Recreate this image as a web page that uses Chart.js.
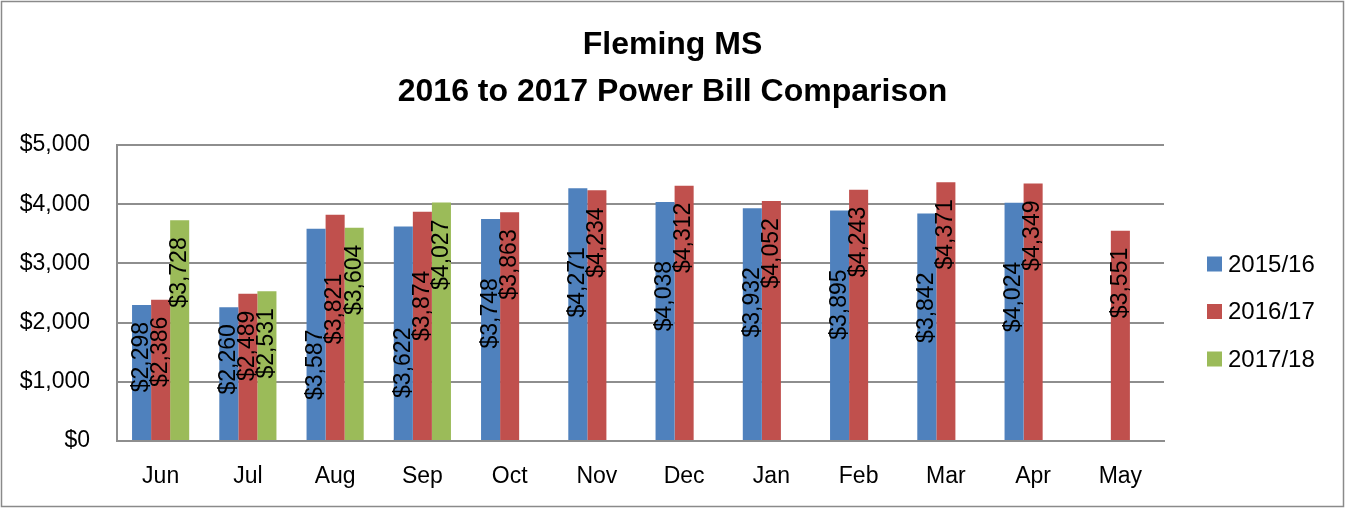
<!DOCTYPE html>
<html>
<head>
<meta charset="utf-8">
<title>Fleming MS - Power Bill Comparison</title>
<script src="https://cdn.jsdelivr.net/npm/chart.js@4.4.1/dist/chart.umd.min.js"></script>
<style>
  html, body { margin: 0; padding: 0; background: #fff; }
  #wrap { width: 1345px; height: 508px; }
</style>
</head>
<body>
<div id="wrap"><canvas id="bill" width="1345" height="508"></canvas></div>
<script>
// ── Data ────────────────────────────────────────────────────
const months      = ['Jun','Jul','Aug','Sep','Oct','Nov','Dec','Jan','Feb','Mar','Apr','May'];
const seriesNames = ['2015/16', '2016/17', '2017/18'];
const bill1516    = [2298, 2260, 3587, 3622, 3748, 4271, 4038, 3932, 3895, 3842, 4024, null];
const bill1617    = [2386, 2489, 3821, 3874, 3863, 4234, 4312, 4052, 4243, 4371, 4349, 3551];
const bill1718    = [3728, 2531, 3604, 4027, null, null, null, null, null, null, null, null];
const yTicks      = [0, 1000, 2000, 3000, 4000, 5000];

// ── Look ────────────────────────────────────────────────────
const FONT   = "'Liberation Sans', Arial, sans-serif";
const GRID   = '#8e8e8e';
const COLORS = ['#4f81bd', '#c0504d', '#9bbb59'];

const money = v => '$' + Number(v).toLocaleString('en-US');

// ── White page + thin frame ─────────────────────────────────
const frame = {
  id: 'frame',
  beforeDraw(chart) {
    const { ctx, width, height } = chart;
    ctx.save();
    ctx.fillStyle = '#fff';
    ctx.fillRect(0, 0, width, height);
    ctx.strokeStyle = '#8a8a8a';
    ctx.lineWidth = 1.5;
    ctx.strokeRect(1.5, 1.5, width - 3, height - 3);
    ctx.restore();
  }
};

// ── Vertical value labels inside the bars ───────────────────
const barLabels = {
  id: 'barLabels',
  afterDatasetsDraw(chart) {
    const { ctx } = chart;
    const n = chart.data.datasets.length;
    ctx.save();
    ctx.font = `23px ${FONT}`;
    ctx.fillStyle = '#000';
    ctx.textAlign = 'center';
    ctx.textBaseline = 'middle';
    months.forEach((m, i) => {
      let toRight = 0;
      for (let d = n - 1; d >= 0; d--) {
        const v = chart.data.datasets[d].data[i];
        if (v == null) continue;
        const bar = chart.getDatasetMeta(d).data[i];
        const txt = money(v);
        const w = ctx.measureText(txt).width;
        let mid = bar.y + 17 + w / 2;
        // tall bars in a crowded group: step the label down per neighbour on the right
        if (v >= 3000) mid += 42 * toRight;
        ctx.save();
        ctx.translate(bar.x, mid);
        ctx.rotate(-Math.PI / 2);
        ctx.fillText(txt, 0, 0);
        ctx.restore();
        toRight++;
      }
    });
    ctx.restore();
  }
};

// ── Legend on the right, Excel style ────────────────────────
const sideLegend = {
  id: 'sideLegend',
  afterDraw(chart) {
    const { ctx } = chart;
    ctx.save();
    ctx.font = `24px ${FONT}`;
    ctx.textAlign = 'left';
    ctx.textBaseline = 'middle';
    chart.data.datasets.forEach((ds, i) => {
      const cy = 264 + i * 47.5;
      ctx.fillStyle = ds.backgroundColor;
      ctx.fillRect(1207, cy - 7.5, 15, 15);
      ctx.fillStyle = '#000';
      ctx.fillText(ds.label, 1228, cy + 1);
    });
    ctx.restore();
  }
};

new Chart(document.getElementById('bill'), {
  type: 'bar',
  data: {
    labels: months,
    datasets: [bill1516, bill1617, bill1718].map((data, i) => ({
      label: seriesNames[i],
      data,
      backgroundColor: COLORS[i],
      borderWidth: 0,
      categoryPercentage: 0.655,
      barPercentage: 1
    }))
  },
  options: {
    responsive: false,
    animation: false,
    layout: { padding: 0 },
    plugins: {
      legend: { display: false },
      tooltip: { enabled: false },
      title: {
        display: true,
        text: ['Fleming MS', '2016 to 2017 Power Bill Comparison'],
        color: '#000',
        font: { family: FONT, size: 32, weight: 'bold', lineHeight: 47 / 32 },
        padding: { top: 21.5, bottom: 29.5 }
      }
    },
    scales: {
      x: {
        grid: { display: false },
        border: { display: true, color: GRID, width: 2 },
        ticks: { color: '#000', font: { family: FONT, size: 23 }, padding: 14, maxRotation: 0 },
        afterFit(s) { s.height = 67; }
      },
      y: {
        min: 0,
        max: 5000,
        afterBuildTicks(s) { s.ticks = yTicks.map(v => ({ value: v })); },
        grid: { color: GRID, lineWidth: 2, drawTicks: false },
        border: { color: GRID, width: 2 },
        ticks: { color: '#000', font: { family: FONT, size: 23 }, padding: 27, callback: v => money(v) },
        afterFit(s) { s.width = 117; }
      },
      // empty strip on the right that holds the legend
      legendSpace: {
        type: 'linear',
        position: 'right',
        grid: { display: false },
        border: { display: false },
        ticks: { display: false },
        afterFit(s) { s.width = 181; }
      }
    }
  },
  plugins: [frame, barLabels, sideLegend]
});
</script>
</body>
</html>
